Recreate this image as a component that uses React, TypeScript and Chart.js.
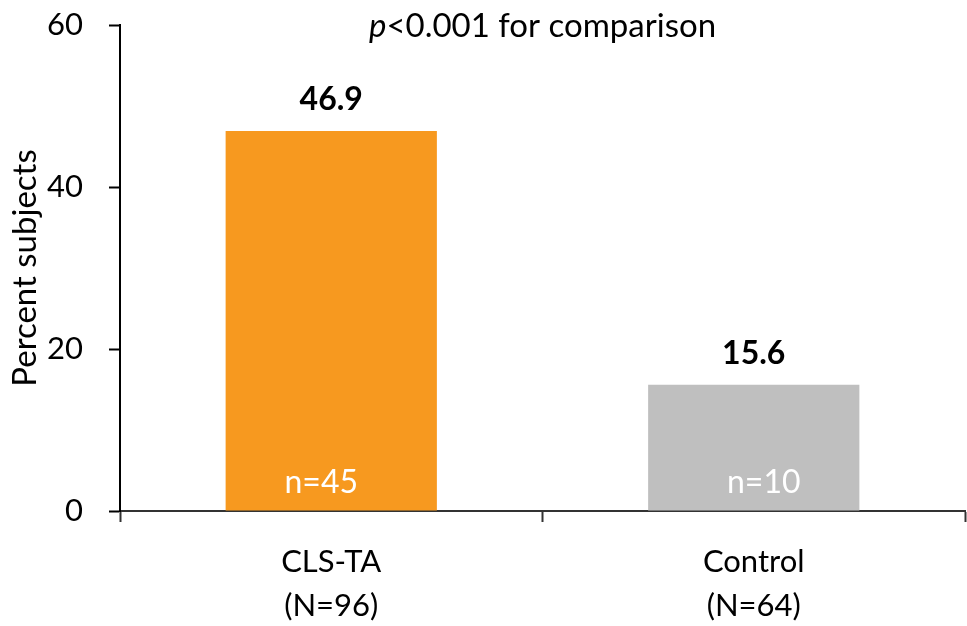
import React, { useEffect, useRef } from "react";
import { Chart, registerables } from "chart.js";

Chart.register(...registerables);

const categories: string[][] = [["CLS-TA", "(N=96)"], ["Control", "(N=64)"]];
const percentValues: number[] = [46.9, 15.6];
const valueLabels: string[] = ["46.9", "15.6"];
const countLabels: string[] = ["n=45", "n=10"];
const barColors: string[] = ["#F7991F", "#BFBFBF"];
const yTicks: number[] = [0, 20, 40, 60];
const yTitle = "Percent subjects";
const pItalic = "p";
const pRest = "<0.001 for comparison";

const FONT = "Lato, 'Open Sans', sans-serif";
const countShift = [-10, 10];

const labelPlugin = {
  id: "barLabels",
  afterDatasetsDraw(chart: any) {
    const ctx = chart.ctx;
    const meta = chart.getDatasetMeta(0);
    const area = chart.chartArea;
    ctx.save();
    meta.data.forEach((bar: any, i: number) => {
      ctx.fillStyle = "#000";
      ctx.font = `bold 32px ${FONT}`;
      ctx.textAlign = "center";
      ctx.textBaseline = "alphabetic";
      ctx.fillText(valueLabels[i], bar.x, bar.y - 21);
      ctx.fillStyle = "#FFFFFF";
      ctx.font = `32px ${FONT}`;
      ctx.fillText(countLabels[i], bar.x + countShift[i], area.bottom - 18);
    });
    const cx = (area.left + area.right) / 2;
    ctx.font = `italic 33px ${FONT}`;
    const w1 = ctx.measureText(pItalic).width;
    ctx.font = `33px ${FONT}`;
    const w2 = ctx.measureText(pRest).width;
    const start = cx - (w1 + w2) / 2;
    ctx.fillStyle = "#000";
    ctx.textAlign = "left";
    ctx.textBaseline = "alphabetic";
    ctx.font = `italic 33px ${FONT}`;
    ctx.fillText(pItalic, start, 37);
    ctx.font = `33px ${FONT}`;
    ctx.fillText(pRest, start + w1, 37);
    ctx.restore();
  },
};

export default function App() {
  const ref = useRef<HTMLCanvasElement | null>(null);
  useEffect(() => {
    if (!ref.current) return;
    const chart = new Chart(ref.current, {
      type: "bar",
      data: {
        labels: categories,
        datasets: [
          {
            data: percentValues,
            backgroundColor: barColors,
            borderWidth: 0,
            categoryPercentage: 1,
            barPercentage: 0.5,
          },
        ],
      },
      options: {
        animation: false,
        responsive: false,
        maintainAspectRatio: false,
        layout: { padding: { top: 25, right: 2, left: 0, bottom: 0 } },
        plugins: {
          legend: { display: false },
          tooltip: { enabled: false },
          title: { display: false },
        },
        scales: {
          x: {
            offset: true,
            grid: {
              offset: true,
              drawOnChartArea: false,
              drawTicks: true,
              tickLength: 11,
              tickWidth: 2,
              tickColor: "#333",
            },
            border: { display: true, color: "#333", width: 2 },
            ticks: {
              color: "#000",
              padding: 18,
              font: { family: FONT, size: 31, lineHeight: 1.42 },
            },
            afterFit: (s: any) => {
              s.height = 115;
              s.paddingLeft = 0;
              s.paddingRight = 0;
            },
          },
          y: {
            min: 0,
            max: 60,
            afterBuildTicks: (s: any) => {
              s.ticks = yTicks.map((v) => ({ value: v }));
            },
            grid: {
              drawOnChartArea: false,
              drawTicks: true,
              tickLength: 11,
              tickWidth: 2,
              tickColor: "#000",
            },
            border: { display: true, color: "#000", width: 2 },
            ticks: {
              color: "#000",
              padding: 26,
              font: { family: FONT, size: 31 },
            },
            title: {
              display: true,
              text: yTitle,
              color: "#000",
              padding: { top: 6, bottom: 0 },
              font: { family: FONT, size: 33 },
            },
            afterFit: (s: any) => {
              s.width = 120;
              s.paddingTop = 0;
              s.paddingBottom = 0;
            },
          },
        },
      },
      plugins: [labelPlugin],
    });
    return () => chart.destroy();
  }, []);
  return (
    <div style={{ position: "fixed", left: 0, top: 0, width: 967, height: 626, background: "#fff" }}>
      <canvas ref={ref} width={967} height={626} style={{ display: "block" }} />
    </div>
  );
}
